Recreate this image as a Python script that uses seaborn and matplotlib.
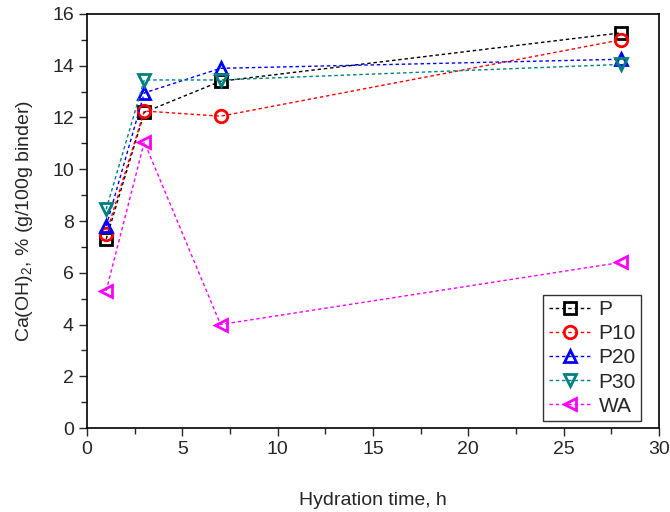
import seaborn as sns
import matplotlib.pyplot as plt
import pandas as pd

hours = [1, 3, 7, 28]
p = [7.3, 12.2, 13.4, 15.27]
p10 = [7.5, 12.25, 12.05, 15.0]
p20 = [7.8, 12.95, 13.9, 14.25]
p30 = [8.45, 13.45, 13.45, 14.05]
wa = [5.3, 11.05, 4.0, 6.4]

series = ['P', 'P10', 'P20', 'P30', 'WA']
colors = ['black', 'red', 'blue', '#008080', 'magenta']
markers = ['s', 'o', '^', 'v', '<']

df = pd.DataFrame({'time': hours * 5,
                   'value': p + p10 + p20 + p30 + wa,
                   'mix': [s for s in series for _ in hours]})

sns.set_style('ticks')
plt.rcParams['font.family'] = ['Liberation Sans', 'DejaVu Sans']
plt.rcParams['mathtext.fontset'] = 'custom'
plt.rcParams['mathtext.rm'] = 'Liberation Sans'

fig = plt.figure(figsize=(6.7, 5.12), dpi=100)
ax = fig.add_axes([0.13, 0.164, 0.8536, 0.8087])

for name, c, m in zip(series, colors, markers):
    sub = df[df['mix'] == name]
    sns.lineplot(x='time', y='value', data=sub, ax=ax, color=c, marker=m,
                 markersize=9, markerfacecolor='none', markeredgecolor=c,
                 markeredgewidth=2, linewidth=1, linestyle=(0, (2.5, 2)),
                 label=name)

ax.set_xlim(0, 30)
ax.set_ylim(0, 16)
ax.set_xticks([0, 5, 10, 15, 20, 25, 30])
ax.set_xticks([2.5, 7.5, 12.5, 17.5, 22.5, 27.5], minor=True)
ax.set_yticks(range(0, 17, 2))
ax.set_yticks(range(1, 16, 2), minor=True)
ax.tick_params(which='both', direction='out', labelsize=14, width=1)
ax.tick_params(which='major', length=6)
ax.tick_params(which='minor', length=4)
for s in ax.spines.values():
    s.set_linewidth(1.2)
    s.set_color('black')

ax.set_xlabel('Hydration time, h', fontsize=14, labelpad=24)
ax.set_ylabel('Ca(OH)$_2$, % (g/100g binder)', fontsize=14, labelpad=12)

leg = ax.legend(loc='lower right', bbox_to_anchor=(0.969, 0.017), fontsize=15,
                frameon=True, fancybox=False, edgecolor='black',
                handlelength=2.0, handletextpad=0.4, borderpad=0.25,
                labelspacing=0.25, borderaxespad=0)
leg.get_frame().set_linewidth(1)

plt.savefig('out.png', dpi=100)
